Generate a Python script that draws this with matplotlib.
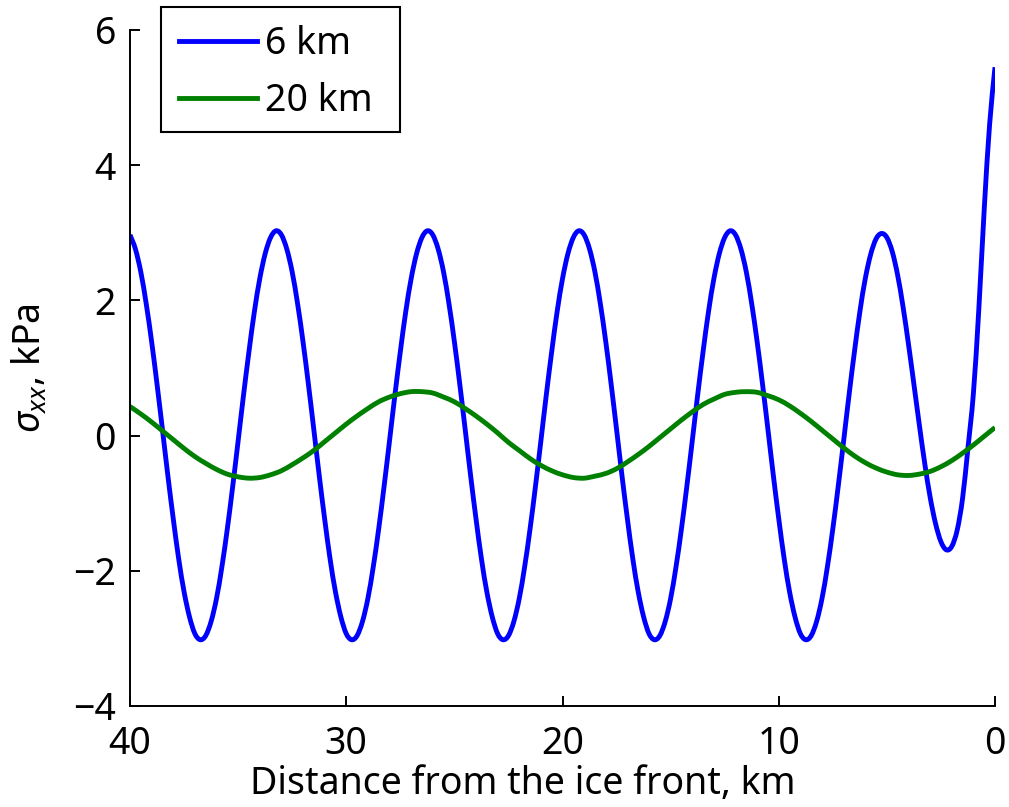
import numpy as np
import matplotlib
matplotlib.use("Agg")
import matplotlib.pyplot as plt
from matplotlib.path import Path
from matplotlib.patches import PathPatch, Rectangle
from matplotlib.lines import Line2D

# Stress along the shelf for two forcing wavelengths (kPa), sampled every 0.25 km / 0.5 km
distance_6km = np.linspace(0, 40, 161)
stress_6km = [
    5.45, 4.60, 3.34, 1.86, 0.62, -0.18, -0.93, -1.40, -1.64, -1.69, -1.57,
    -1.30, -0.91, -0.41, 0.16, 0.76, 1.35, 1.90, 2.37, 2.72, 2.93,
    2.99, 2.91, 2.68, 2.32, 1.83, 1.24, 0.60, -0.08, -0.75, -1.38, -1.94, -2.41, -2.75, -2.96,
    -3.02, -2.93, -2.68, -2.31, -1.82, -1.23, -0.59, 0.09, 0.76, 1.39, 1.95, 2.42, 2.76, 2.97,
    3.03, 2.93, 2.69, 2.32, 1.83, 1.24, 0.60, -0.08, -0.75, -1.38, -1.94, -2.41, -2.75, -2.96,
    -3.02, -2.93, -2.68, -2.31, -1.82, -1.23, -0.59, 0.09, 0.76, 1.39, 1.95, 2.42, 2.76, 2.97,
    3.03, 2.93, 2.69, 2.32, 1.83, 1.24, 0.60, -0.08, -0.75, -1.38, -1.94, -2.41, -2.75, -2.96,
    -3.02, -2.93, -2.68, -2.31, -1.82, -1.23, -0.59, 0.09, 0.76, 1.39, 1.95, 2.42, 2.76, 2.97,
    3.03, 2.93, 2.69, 2.32, 1.83, 1.24, 0.60, -0.08, -0.75, -1.38, -1.94, -2.41, -2.75, -2.96,
    -3.02, -2.93, -2.68, -2.31, -1.82, -1.23, -0.59, 0.09, 0.76, 1.39, 1.95, 2.42, 2.76, 2.97,
    3.03, 2.93, 2.69, 2.32, 1.83, 1.24, 0.60, -0.08, -0.75, -1.38, -1.94, -2.41, -2.75, -2.96,
    -3.02, -2.93, -2.68, -2.31, -1.82, -1.23, -0.59, 0.09, 0.76, 1.39, 1.95, 2.42, 2.76, 2.97,
]

distance_20km = np.linspace(0, 40, 81)
stress_20km = [
    0.12, -0.01, -0.14, -0.26, -0.37, -0.46, -0.53, -0.57, -0.59, -0.58,
    -0.54, -0.48, -0.40, -0.30, -0.18, -0.05, 0.08, 0.21, 0.33, 0.44,
    0.53, 0.59, 0.64, 0.65, 0.64, 0.61, 0.54, 0.46, 0.35, 0.23,
    0.10, -0.03, -0.16, -0.28, -0.39, -0.49, -0.56, -0.60, -0.63, -0.62,
    -0.58, -0.52, -0.44, -0.34, -0.22, -0.10, 0.04, 0.17, 0.29, 0.40,
    0.50, 0.57, 0.63, 0.65, 0.65, 0.62, 0.57, 0.50, 0.40, 0.29,
    0.17, 0.04, -0.09, -0.22, -0.33, -0.43, -0.52, -0.58, -0.62, -0.63,
    -0.61, -0.57, -0.50, -0.41, -0.31, -0.19, -0.06, 0.07, 0.20, 0.32,
    0.43,
]

series_labels = ["6 km", "20 km"]
series_colors = [(0, 0, 1), (0, 0.5, 0)]
x_ticks = [0, 10, 20, 30, 40]
y_ticks = [-4, -2, 0, 2, 4, 6]

plt.rcParams["font.family"] = ["Noto Sans", "DejaVu Sans"]
plt.rcParams["mathtext.fontset"] = "custom"
plt.rcParams["mathtext.rm"] = "Noto Sans"
plt.rcParams["mathtext.it"] = "Noto Sans:italic"
plt.rcParams["axes.unicode_minus"] = True

FS = 27
LW = 3.5


def smooth_curve(x, y):
    """Catmull-Rom spline through the samples, as cubic Bezier segments."""
    x = np.asarray(x, float)
    y = np.asarray(y, float)
    pts = np.column_stack([x, y])
    ext = np.vstack([2 * pts[0] - pts[1], pts, 2 * pts[-1] - pts[-2]])
    verts = [tuple(pts[0])]
    codes = [Path.MOVETO]
    for i in range(len(pts) - 1):
        p0, p1, p2, p3 = ext[i], ext[i + 1], ext[i + 2], ext[i + 3]
        c1 = p1 + (p2 - p0) / 6.0
        c2 = p2 - (p3 - p1) / 6.0
        verts += [tuple(c1), tuple(c2), tuple(p2)]
        codes += [Path.CURVE4] * 3
    return Path(verts, codes)


W, H = 1009, 807
fig = plt.figure(figsize=(W / 100, H / 100), dpi=100)
ax = fig.add_axes([130 / W, 1 - 706 / H, 865 / W, 676 / H])

for xs, ys, col in [(distance_6km, stress_6km, series_colors[0]),
                    (distance_20km, stress_20km, series_colors[1])]:
    ax.add_patch(PathPatch(smooth_curve(xs, ys), fill=False, edgecolor=col,
                           lw=LW, joinstyle="round", capstyle="butt"))

ax.set_xlim(40, 0)
ax.set_ylim(-4, 6)
ax.set_xticks(x_ticks)
ax.set_yticks(y_ticks)

for side in ("top", "right"):
    ax.spines[side].set_visible(False)
for side in ("left", "bottom"):
    ax.spines[side].set_linewidth(1.4)
    ax.spines[side].set_color("black")

ax.tick_params(direction="in", length=7, width=1.4, labelsize=FS, colors="black")
ax.tick_params(axis="y", pad=10)
ax.tick_params(axis="x", pad=14)

ax.set_xlabel("Distance from the ice front, km", fontsize=FS, va="top")
ax.xaxis.set_label_coords((523 - 130) / 865, (706 - 765) / 676)
ax.set_ylabel(r"$\sigma_{xx}$, kPa", fontsize=FS)
ax.yaxis.set_label_coords((50 - 130) / 865, 0.5)

# Legend box drawn as a fixed rectangle; entries placed inside it
fig.patches.append(Rectangle((161 / W, 1 - 132 / H), 239 / W, 125 / H,
                             transform=fig.transFigure, fill=True, facecolor="white",
                             edgecolor="black", lw=1.5, zorder=5))
handles = [Line2D([], [], color=c, lw=LW) for c in series_colors]
leg = fig.legend(handles, series_labels, loc="upper left",
                 bbox_to_anchor=(161 / W, 1 - 7 / H), bbox_transform=fig.transFigure,
                 borderaxespad=0, frameon=False, handlelength=2.1, handletextpad=0.21,
                 labelspacing=0.52, borderpad=0.47, fontsize=FS)
leg.set_zorder(6)

fig.savefig("out.png", dpi=100)
